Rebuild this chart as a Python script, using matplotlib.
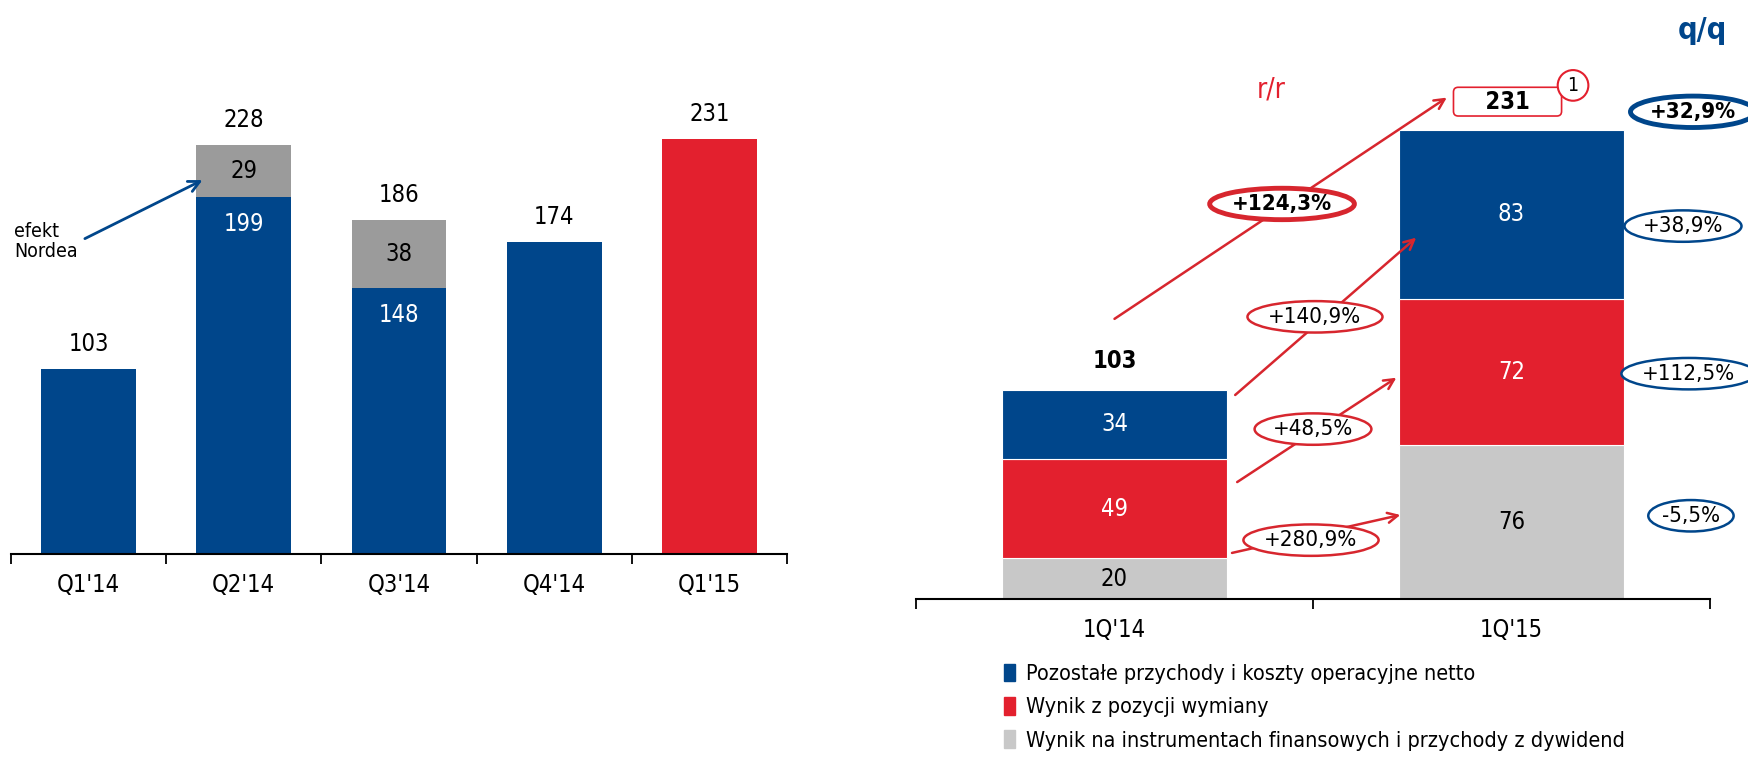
import matplotlib
matplotlib.use("Agg")
import matplotlib.pyplot as plt
from matplotlib.patches import Patch

plt.rcParams['font.family'] = ['DejaVu Sans']
plt.rcParams['font.stretch'] = 'condensed'

BLUE = '#00468B'
RED = '#E3202E'
GRAY_L = '#9B9B9B'
GRAY_R = '#C8C8C8'

# lewy wykres - kwartaly
kwartaly = ["Q1'14", "Q2'14", "Q3'14", "Q4'14", "Q1'15"]
baza = [103, 199, 148, 174, 231]
nordea = [0, 29, 38, 0, 0]
suma = [103, 228, 186, 174, 231]

# prawy wykres - struktura
okresy = ["1Q'14", "1Q'15"]
instrumenty = [20, 76]
wymiana = [49, 72]
pozostale = [34, 83]
razem = [103, 231]
rr = ["+280,9%", "+48,5%", "+140,9%", "+124,3%"]
qq = ["-5,5%", "+112,5%", "+38,9%", "+32,9%"]
etykiety = ["Pozostałe przychody i koszty operacyjne netto",
            "Wynik z pozycji wymiany",
            "Wynik na instrumentach finansowych i przychody z dywidend"]

W, H = 1748, 768
fig = plt.figure(figsize=(W / 100, H / 100), dpi=100)


def rect(x0, x1, ybase):
    return [x0 / W, (H - ybase) / H, (x1 - x0) / W, ybase / H]


def os_x(ax, n):
    ax.set_xlim(-0.5, n - 0.5)
    for s in ['top', 'right', 'left']:
        ax.spines[s].set_visible(False)
    ax.spines['bottom'].set_linewidth(1.5)
    ax.set_yticks([])
    ax.set_xticks([i - 0.5 for i in range(n + 1)], minor=True)
    ax.tick_params(axis='x', which='minor', direction='out', length=7, width=1.3)
    ax.tick_params(axis='x', which='major', length=0, labelsize=17, pad=14)


# --- lewy ---
ax1 = fig.add_axes(rect(11, 787, 554))
ax1.set_ylim(0, 554 / 1.795)
os_x(ax1, len(kwartaly))
x = range(len(kwartaly))
kol = [BLUE, BLUE, BLUE, BLUE, RED]
ax1.bar(x, baza, width=0.61, color=kol)
ax1.bar(x, nordea, bottom=baza, width=0.61, color=GRAY_L)
ax1.set_xticks(list(x))
ax1.set_xticklabels(kwartaly)
for i in x:
    ax1.text(i, suma[i] + 14, str(suma[i]), ha='center', va='center', fontsize=17)
    if nordea[i]:
        ax1.text(i, baza[i] - 15, str(baza[i]), ha='center', va='center',
                 fontsize=17, color='white')
        ax1.text(i, baza[i] + nordea[i] / 2, str(nordea[i]), ha='center',
                 va='center', fontsize=17)
ax1.text(-0.48, 174, "efekt\nNordea", ha='left', va='center', fontsize=14,
         linespacing=1.1)
ax1.annotate("", xy=(0.75, 209), xytext=(-0.04, 175),
             arrowprops=dict(arrowstyle='->', color=BLUE, lw=2,
                             mutation_scale=20))

# --- prawy ---
ax2 = fig.add_axes(rect(916, 1710, 599))
ax2.set_ylim(0, 599 / 2.03)
os_x(ax2, len(okresy))
x2 = range(len(okresy))
ax2.bar(x2, instrumenty, width=0.567, color=GRAY_R, edgecolor='white', lw=0.8)
ax2.bar(x2, wymiana, bottom=instrumenty, width=0.567, color=RED,
        edgecolor='white', lw=0.8)
dol = [a + b for a, b in zip(instrumenty, wymiana)]
ax2.bar(x2, pozostale, bottom=dol, width=0.567, color=BLUE,
        edgecolor='white', lw=0.8)
ax2.set_xticks(list(x2))
ax2.set_xticklabels(okresy)
for i in x2:
    ax2.text(i, instrumenty[i] / 2, str(instrumenty[i]), ha='center',
             va='center', fontsize=17)
    ax2.text(i, instrumenty[i] + wymiana[i] / 2, str(wymiana[i]), ha='center',
             va='center', fontsize=17, color='white')
    ax2.text(i, dol[i] + pozostale[i] / 2, str(pozostale[i]), ha='center',
             va='center', fontsize=17, color='white')

ax2.text(0, razem[0] + 14, str(razem[0]), ha='center', va='center',
         fontsize=17, fontweight='bold')
ax2.text(0.99, razem[1] + 14, "    " + str(razem[1]) + "    ", ha='center',
         va='center', fontsize=17, fontweight='bold',
         bbox=dict(boxstyle='round,pad=0.1,rounding_size=0.2', fc='white',
                   ec=RED, lw=1.2), zorder=5)
ax2.text(1.155, 253, "1", ha='center', va='center', fontsize=14,
         bbox=dict(boxstyle='circle,pad=0.3', fc='white', ec=RED, lw=1.5),
         zorder=6)

ax2.text(0.394, 251, "r/r", ha='center', va='center', fontsize=20, color=RED)
ax2.text(1.48, 280, "q/q", ha='center', va='center', fontsize=22,
         color=BLUE, fontweight='bold')

# strzalki r/r
strzalki = [((0.296, 22.7), (0.72, 41.4)),
            ((0.309, 57.6), (0.71, 109)),
            ((0.304, 100.5), (0.76, 178)),
            ((0.0, 138), (0.837, 247))]
for (p0, p1) in strzalki:
    ax2.annotate("", xy=p1, xytext=p0, annotation_clip=False,
                 arrowprops=dict(arrowstyle='->', color='#D7262E', lw=1.8,
                                 mutation_scale=18, shrinkA=0, shrinkB=0))

poz_rr = [(0.495, 29), (0.50, 83.7), (0.505, 139), (0.422, 194.6)]
for k, (px, py) in enumerate(poz_rr):
    gruby = k == len(rr) - 1
    ax2.text(px, py, rr[k], ha='center', va='center', fontsize=16,
             fontweight='bold' if gruby else 'normal', zorder=6,
             bbox=dict(boxstyle='ellipse,pad=0.05', fc='white', ec='#D7262E',
                       lw=3.5 if gruby else 1.8))

poz_qq = [(1.452, 41), (1.447, 111), (1.432, 183.7), (1.457, 240)]
for k, (px, py) in enumerate(poz_qq):
    gruby = k == len(qq) - 1
    ax2.text(px, py, qq[k], ha='center', va='center', fontsize=16,
             fontweight='bold' if gruby else 'normal', zorder=6, clip_on=False,
             bbox=dict(boxstyle='ellipse,pad=0.05', fc='white', ec=BLUE,
                       lw=3.5 if gruby else 1.8))

uchwyty = [Patch(color=BLUE), Patch(color=RED), Patch(color=GRAY_R)]
fig.legend(uchwyty, etykiety, loc='upper left',
           bbox_to_anchor=(995 / W, 1 - 655 / H), frameon=False, fontsize=15.5,
           handlelength=0.55, handleheight=0.9, handletextpad=0.5,
           labelspacing=0.6, borderaxespad=0)

fig.savefig("out.png", dpi=100)
